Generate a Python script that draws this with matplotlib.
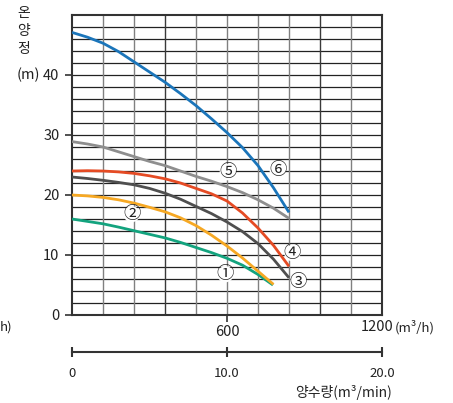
import matplotlib
matplotlib.use("Agg")
import matplotlib.pyplot as plt

plt.rcParams['font.family'] = ['Noto Sans CJK KR', 'DejaVu Sans']

# ---- data (flow m3/h, head m) ----
flow_long = [0, 60, 120, 180, 240, 300, 360, 420, 480, 540, 600, 660, 720, 780, 840]
flow_2 = [0, 60, 120, 180, 240, 300, 360, 420, 480, 540, 600, 660, 720, 780]
flow_1 = [0, 60, 120, 180, 240, 300, 360, 420, 480, 540, 600, 660, 720, 778]

head6 = [47.1, 46.3, 45.3, 43.9, 42.2, 40.5, 38.8, 36.9, 34.9, 32.7, 30.4, 27.9, 24.9, 21.2, 17.1]
head5 = [28.9, 28.5, 28.0, 27.2, 26.4, 25.6, 24.9, 24.0, 23.1, 22.3, 21.4, 20.4, 19.2, 17.8, 16.1]
head4 = [24.0, 24.05, 24.0, 23.85, 23.6, 23.2, 22.7, 22.0, 21.1, 20.2, 19.0, 17.0, 14.5, 11.6, 8.1]
head3 = [23.0, 22.75, 22.45, 22.1, 21.7, 21.1, 20.3, 19.3, 18.1, 16.9, 15.5, 13.9, 11.9, 9.3, 6.2]
head2 = [20.0, 19.85, 19.6, 19.2, 18.65, 17.95, 17.2, 16.2, 14.9, 13.3, 11.5, 9.5, 7.3, 5.1]
head1 = [16.0, 15.6, 15.2, 14.65, 14.05, 13.45, 12.85, 12.1, 11.25, 10.4, 9.45, 8.3, 6.75, 5.0]

yticks = [0, 10, 20, 30, 40]
xticks = [600]
xticklabels = ['600']
x_end_label = '1200'
min_ticks = [0, 10, 20]
min_ticklabels = ['0', '10.0', '20.0']

colors = {
    6: '#1b75ba', 5: '#8e8e8e', 4: '#e54b24',
    3: '#4f4f4f', 2: '#f6a823', 1: '#13a37e',
}

W, H = 453, 403
fig = plt.figure(figsize=(W / 100, H / 100), dpi=100)
ax = fig.add_axes([72 / W, 1 - 315 / H, 310 / W, 300 / H])
ax.set_xlim(0, 1200)
ax.set_ylim(0, 50)

# grid
for y in range(2, 50, 2):
    ax.axhline(y, color='#222222', lw=0.9, zorder=1)
for x in range(120, 1200, 120):
    c = '#3a3a3a' if x in (360, 960) else '#808080'
    ax.axvline(x, color=c, lw=1.0, zorder=1)
for s in ax.spines.values():
    s.set_color('#333333')
    s.set_linewidth(1.5)

# curves
kw = dict(lw=2.0, zorder=3, solid_capstyle='butt', solid_joinstyle='round')
ax.plot(flow_1, head1, color=colors[1], **kw)
ax.plot(flow_2, head2, color=colors[2], **kw)
ax.plot(flow_long, head3, color=colors[3], **kw)
ax.plot(flow_long, head4, color=colors[4], **kw)
ax.plot(flow_long, head5, color=colors[5], **kw)
ax.plot(flow_long, head6, color=colors[6], **kw)

# circled labels
labels = [('①', 594, 6.8), ('②', 231, 16.8), ('③', 876, 5.55),
          ('④', 853, 10.3), ('⑤', 603, 23.8), ('⑥', 796, 24.2)]
for t, lx, ly in labels:
    ax.text(lx, ly, t, ha='center', va='center', fontsize=12.5, color='#222222',
            zorder=4, clip_on=False,
            bbox=dict(boxstyle='circle,pad=-0.05', fc='white', ec='none'))

# ticks
ax.set_yticks(yticks)
ax.set_yticklabels([str(v) for v in yticks])
ax.set_xticks(xticks)
ax.set_xticklabels(xticklabels)
ax.tick_params(axis='y', direction='out', length=5, width=1.2, color='#333333',
               labelsize=10.5, pad=4, labelcolor='#222222')
ax.tick_params(axis='x', direction='out', length=5, width=1.2, color='#333333',
               labelsize=10.5, pad=2, labelcolor='#222222')

fig.text(393 / W, 1 - 327 / H, x_end_label, ha='right', va='center', fontsize=10.5, color='#222222')
fig.text(395 / W, 1 - 327 / H, '(m³/h)', ha='left', va='center', fontsize=9.5, color='#222222')
fig.text(0 / W, 1 - 327 / H, 'h)', ha='left', va='center', fontsize=9.5, color='#222222')

# y axis label (vertical characters)
for ch, py in [('온', 13), ('양', 31), ('정', 49)]:
    fig.text(24 / W, 1 - py / H, ch, ha='center', va='center', fontsize=10, color='#222222')
fig.text(28 / W, 1 - 75 / H, '(m)', ha='center', va='center', fontsize=10.5, color='#222222')

# secondary flow axis (m3/min)
ax2 = fig.add_axes([72 / W, 1 - 352 / H, 310 / W, 0.0001])
ax2.set_xlim(0, 20)
ax2.set_xticks(min_ticks)
ax2.set_xticklabels(min_ticklabels)
ax2.set_yticks([])
for k in ('top', 'left', 'right'):
    ax2.spines[k].set_visible(False)
ax2.spines['bottom'].set_color('#333333')
ax2.spines['bottom'].set_linewidth(1.5)
ax2.tick_params(axis='x', direction='inout', length=7, width=1.5, color='#333333',
                labelsize=9.5, pad=7, labelcolor='#222222')
ax2.patch.set_visible(False)

fig.text(392 / W, 1 - 393 / H, '양수량(m³/min)', ha='right', va='center', fontsize=10, color='#222222')

fig.savefig('out.png', dpi=100)
